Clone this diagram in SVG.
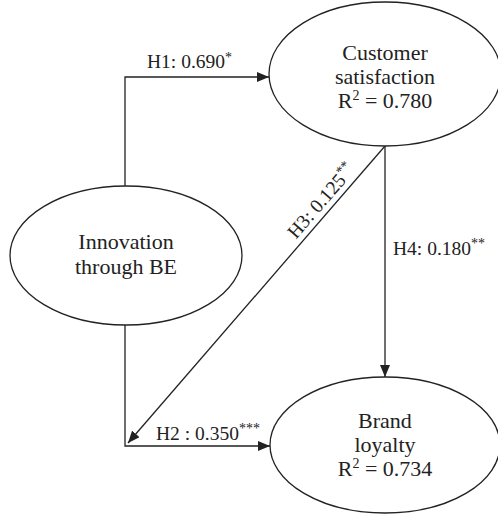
<svg xmlns="http://www.w3.org/2000/svg" width="498" height="515" viewBox="0 0 498 515">
<style>
.node{fill:#fff;stroke:#222;stroke-width:1.3}
.lbl{font-family:"Liberation Serif","Times New Roman",serif;font-size:22px;fill:#222;text-anchor:middle}
.elbl{font-family:"Liberation Serif","Times New Roman",serif;font-size:19.5px;fill:#222}
.edge{fill:none;stroke:#222;stroke-width:1.3}
.sup{font-size:14px}
</style>
<defs>
<marker id="arr" viewBox="0 0 12 10" refX="12" refY="5" markerWidth="12" markerHeight="10" markerUnits="userSpaceOnUse" orient="auto">
<path d="M0,0 L12,5 L0,10 Z" fill="#222"/>
</marker>
</defs>
<g id="connectors">
<path class="edge" d="M125,186 V77 H269" marker-end="url(#arr)"/>
<path class="edge" d="M125,325 V446 H270" marker-end="url(#arr)"/>
<path class="edge" d="M385,146 L128,443" marker-end="url(#arr)"/>
<path class="edge" d="M385,146 V377" marker-end="url(#arr)"/>
<text class="elbl" x="147" y="68">H1: 0.690<tspan class="sup" dy="-6">*</tspan></text>
<text class="elbl" x="156" y="440">H2 : 0.350<tspan class="sup" dy="-7">***</tspan></text>
<text class="elbl" x="393" y="255">H4: 0.180<tspan class="sup" dy="-7">**</tspan></text>
<text class="elbl" text-anchor="middle" transform="translate(326,205) rotate(-49.1)">H3: 0.125<tspan class="sup" dy="-7">**</tspan></text>
</g>
<g id="customer-satisfaction">
<ellipse class="node" cx="385" cy="74" rx="116" ry="72"/>
<text class="lbl" x="385" y="60">Customer</text>
<text class="lbl" x="385" y="84">satisfaction</text>
<text class="lbl" x="385" y="108">R<tspan class="sup" dy="-8">2</tspan><tspan dy="8"> = 0.780</tspan></text>
</g>
<g id="innovation">
<ellipse class="node" cx="126" cy="255.5" rx="116" ry="69.5"/>
<text class="lbl" x="126" y="249">Innovation</text>
<text class="lbl" x="126" y="274">through BE</text>
</g>
<g id="brand-loyalty">
<ellipse class="node" cx="385" cy="445" rx="115" ry="68"/>
<text class="lbl" x="385" y="428">Brand</text>
<text class="lbl" x="385" y="452">loyalty</text>
<text class="lbl" x="385" y="476">R<tspan class="sup" dy="-8">2</tspan><tspan dy="8"> = 0.734</tspan></text>
</g>
</svg>
